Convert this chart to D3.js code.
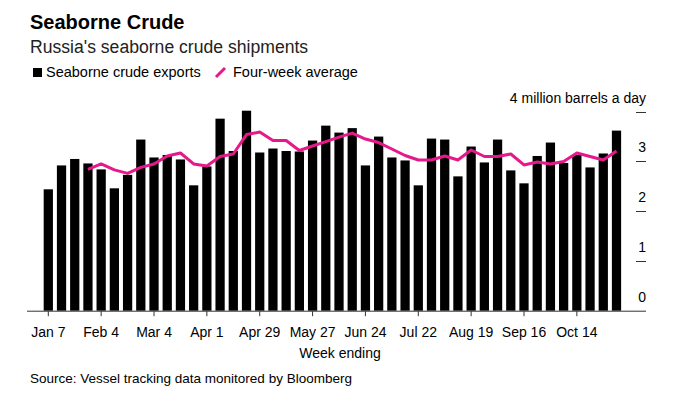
<!DOCTYPE html>
<html>
<head>
<meta charset="utf-8">
<script src="https://cdn.jsdelivr.net/npm/d3@7"></script>
<style>
    body { margin: 0; background: #fff; }
    svg text { font-family: "Liberation Sans", Arial, sans-serif; fill: #000; }
</style>
</head>
<body>
<svg id="chart" width="677" height="394"></svg>
<script>
// week-ending dates
var weeks = ["Jan 7", "Jan 14", "Jan 21", "Jan 28", "Feb 4", "Feb 11", "Feb 18", "Feb 25",
    "Mar 4", "Mar 11", "Mar 18", "Mar 25", "Apr 1", "Apr 8", "Apr 15", "Apr 22", "Apr 29",
    "May 6", "May 13", "May 20", "May 27", "Jun 3", "Jun 10", "Jun 17", "Jun 24", "Jul 1",
    "Jul 8", "Jul 15", "Jul 22", "Jul 29", "Aug 5", "Aug 12", "Aug 19", "Aug 26", "Sep 2",
    "Sep 9", "Sep 16", "Sep 23", "Sep 30", "Oct 7", "Oct 14", "Oct 21", "Oct 28", "Nov 4"];

// million barrels a day
var exports = [2.44, 2.92, 3.05, 2.96, 2.84, 2.46, 2.73, 3.44, 3.08, 3.13, 3.04, 2.52,
    2.90, 3.86, 3.21, 4.02, 3.18, 3.26, 3.21, 3.20, 3.42, 3.72, 3.58, 3.67, 2.92, 3.50,
    3.08, 3.02, 2.52, 3.46, 3.44, 2.70, 3.30, 2.98, 3.44, 2.82, 2.56, 3.11, 3.38, 2.97,
    3.13, 2.88, 3.16, 3.62];

var average = [null, null, null, 2.84, 2.95, 2.83, 2.76, 2.88, 2.95, 3.11, 3.17, 2.95,
    2.91, 3.10, 3.15, 3.54, 3.59, 3.42, 3.42, 3.22, 3.31, 3.40, 3.49, 3.57, 3.45, 3.38,
    3.25, 3.12, 3.03, 3.03, 3.11, 3.03, 3.23, 3.10, 3.10, 3.15, 2.93, 2.99, 2.95, 3.00,
    3.17, 3.10, 3.03, 3.21];

var xTicks = ["Jan 7", "Feb 4", "Mar 4", "Apr 1", "Apr 29", "May 27", "Jun 24", "Jul 22",
    "Aug 19", "Sep 16", "Oct 14"];
var yTicks = [0, 1, 2, 3, 4];

var pink = "#e6198a";

var svg = d3.select("#chart");

var x = d3.scaleBand()
    .domain(weeks)
    .range([41.7, 623.1])
    .paddingInner(0.3)
    .paddingOuter(0.15);

var y = d3.scaleLinear()
    .domain([0, 4])
    .range([310.7, 111.7]);

// title block
svg.append("text")
    .attr("x", 30).attr("y", 29)
    .style("font-size", "20px").style("font-weight", "bold")
    .text("Seaborne Crude");

svg.append("text")
    .attr("x", 30).attr("y", 53)
    .style("font-size", "17.6px").style("fill", "#222")
    .text("Russia's seaborne crude shipments");

// legend
var legend = svg.append("g").attr("transform", "translate(33,77)");
legend.append("rect")
    .attr("x", 0).attr("y", -9).attr("width", 9).attr("height", 9)
    .attr("fill", "#000");
legend.append("text")
    .attr("x", 13).attr("y", 0)
    .style("font-size", "14.5px")
    .text("Seaborne crude exports");
legend.append("line")
    .attr("x1", 183).attr("y1", 0).attr("x2", 192).attr("y2", -9)
    .attr("stroke", pink).attr("stroke-width", 3);
legend.append("text")
    .attr("x", 200).attr("y", 0)
    .style("font-size", "14.5px")
    .text("Four-week average");

// bars
svg.append("g").selectAll("rect.bar")
    .data(exports)
    .enter()
    .append("rect")
        .attr("class", "bar")
        .attr("x", function(d, i) { return x(weeks[i]); })
        .attr("width", x.bandwidth())
        .attr("y", function(d) { return y(d); })
        .attr("height", function(d) { return y(0) - y(d); })
        .attr("fill", "#000");

// four-week average
var line = d3.line()
    .defined(function(d) { return d != null; })
    .x(function(d, i) { return x(weeks[i]) + x.bandwidth() / 2; })
    .y(function(d) { return y(d); });

svg.append("path")
    .datum(average)
    .attr("d", line)
    .attr("fill", "none")
    .attr("stroke", pink)
    .attr("stroke-width", 3)
    .attr("stroke-linejoin", "round");

// x axis
svg.append("line")
    .attr("x1", 27).attr("x2", 646)
    .attr("y1", y(0) + 0.5).attr("y2", y(0) + 0.5)
    .attr("stroke", "#333").attr("stroke-width", 1);

var xAxis = d3.axisBottom(x).tickValues(xTicks).tickSize(5).tickPadding(11);
var xg = svg.append("g")
    .attr("transform", "translate(0," + (y(0) + 0.5) + ")")
    .call(xAxis);
xg.select(".domain").remove();
xg.selectAll(".tick line").attr("stroke", "#333");
xg.selectAll(".tick text")
    .style("font-size", "14px")
    .style("font-family", "'Liberation Sans', Arial, sans-serif")
    .attr("fill", "#000");

svg.append("text")
    .attr("x", 340).attr("y", 358)
    .attr("text-anchor", "middle")
    .style("font-size", "14px")
    .text("Week ending");

// y axis on the right
var yg = svg.append("g");
yg.selectAll("line")
    .data(yTicks.slice(1))
    .enter()
    .append("line")
        .attr("x1", 636).attr("x2", 646)
        .attr("y1", function(d) { return Math.round(y(d)) + 0.5; })
        .attr("y2", function(d) { return Math.round(y(d)) + 0.5; })
        .attr("stroke", "#333");

yg.selectAll("text")
    .data(yTicks)
    .enter()
    .append("text")
        .attr("x", 646)
        .attr("y", function(d) { return y(d) - 9; })
        .attr("text-anchor", "end")
        .style("font-size", "14px")
        .text(function(d) { return d === 4 ? "4 million barrels a day" : d; });

// source
svg.append("text")
    .attr("x", 30).attr("y", 383)
    .style("font-size", "13.5px")
    .text("Source: Vessel tracking data monitored by Bloomberg");
</script>
</body>
</html>
